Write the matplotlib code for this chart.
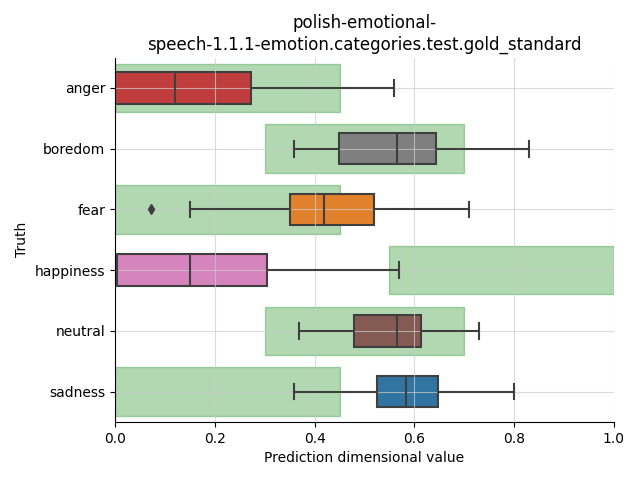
import numpy as np
import matplotlib
matplotlib.use("Agg")
import matplotlib.pyplot as plt

categories = ["anger", "boredom", "fear", "happiness", "neutral", "sadness"]
# box stats
whislo = [0.000, 0.359, 0.150, 0.000, 0.369, 0.359]
q1 = [0.000, 0.448, 0.351, 0.003, 0.479, 0.526]
med = [0.120, 0.565, 0.418, 0.150, 0.565, 0.584]
q3 = [0.273, 0.644, 0.519, 0.305, 0.614, 0.648]
whishi = [0.559, 0.830, 0.709, 0.569, 0.729, 0.800]
fliers = [[], [], [0.071], [], [], []]
# expected range for each truth category
range_lo = [0.0, 0.3, 0.0, 0.55, 0.3, 0.0]
range_hi = [0.45, 0.7, 0.45, 1.0, 0.7, 0.45]
box_colors = ["#c03d3e", "#7f7f7f", "#e1812c", "#d684bd", "#845b53", "#3274a1"]

fig, ax = plt.subplots(figsize=(6.4, 4.8), dpi=100)

pos = np.arange(len(categories))
ax.barh(pos, np.array(range_hi) - np.array(range_lo), left=range_lo, height=0.8,
        color="green", alpha=0.3, edgecolor="green", linewidth=1, zorder=1)

stats = []
for i, c in enumerate(categories):
    stats.append(dict(label=c, whislo=whislo[i], q1=q1[i], med=med[i], q3=q3[i],
                      whishi=whishi[i], fliers=fliers[i]))

edge = "#3f3f3f"
bp = ax.bxp(stats, positions=pos, vert=False, widths=0.52, patch_artist=True,
            capwidths=0.26, zorder=2)
for patch, col in zip(bp["boxes"], box_colors):
    patch.set_facecolor(col)
    patch.set_edgecolor(edge)
    patch.set_linewidth(1.5)
for key in ["whiskers", "caps", "medians"]:
    plt.setp(bp[key], color=edge, linewidth=1.5, zorder=3)
plt.setp(bp["fliers"], marker="d", markerfacecolor=edge, markeredgecolor=edge,
         markersize=5, zorder=3)

ax.set_yticks(pos)
ax.set_yticklabels(categories)
ax.set_ylim(len(categories) - 0.5, -0.5)
ax.set_xlim(0, 1)
ax.grid(True, color="#cccccc", alpha=0.7, linewidth=0.8, zorder=2.5)
ax.set_axisbelow(False)
ax.spines["top"].set_visible(False)
ax.spines["right"].set_visible(False)
ax.spines["left"].set_zorder(4)
ax.spines["bottom"].set_zorder(4)

ax.set_title("polish-emotional-\nspeech-1.1.1-emotion.categories.test.gold_standard")
ax.set_xlabel("Prediction dimensional value")
ax.set_ylabel("Truth")

plt.subplots_adjust(left=0.18, right=0.959, bottom=0.121, top=0.88)
plt.savefig("out.png", dpi=100)
